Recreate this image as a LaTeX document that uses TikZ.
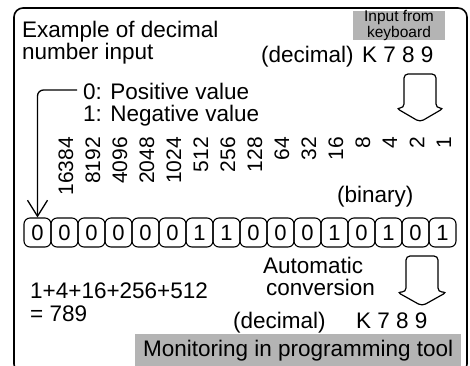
\documentclass[tikz,border=0pt]{standalone}
\usepackage{fontspec}
\setmainfont{Liberation Sans}
\usetikzlibrary{arrows.meta}
\definecolor{boxgray}{RGB}{180,180,180}
\begin{document}
\begin{tikzpicture}[x=1pt,y=-1pt,
  every node/.style={inner sep=0pt},
  txt/.style={font=\fontsize{22.5}{26}\selectfont, anchor=base west},
  weight/.style={font=\fontsize{21}{24}\selectfont, rotate=90, anchor=east},
  bitcell/.style={draw, line width=1.1pt, rounded corners=6pt, minimum width=27pt, minimum height=29pt, font=\fontsize{22}{24}\selectfont},
  blockarrow/.style={draw, line width=1.2pt, rounded corners=4pt, fill=white},
  graybox/.style={fill=boxgray}
]
\useasboundingbox (0,0) rectangle (470,365);
\begin{scope}
  \clip (0,0) rectangle (470,365);
  \draw[line width=1.6pt, rounded corners=9pt] (14,8) rectangle (467,373);
\end{scope}

% top texts
\node[txt] (ex1) at (22,37) {Example of decimal};
\node[txt] (ex2) at (22,59) {number input};
\node[txt] (dec1) at (261,62) {(decimal)};
\node[txt] (k1) at (362,62) {K 7 8 9};
\node[graybox, minimum width=92pt, minimum height=27pt, align=center,
      font=\fontsize{15.5}{13.5}\selectfont] (kbd) at (399,25.5) {Input from\\keyboard};

% sign legend
\node[txt] (pos) at (83,99) {0: Positive value};
\node[txt] (neg) at (83,121) {1: Negative value};

% top block arrow
\draw[blockarrow] (404,108) -- (404,74) -- (436,74) -- (436,108) -- (444,108) -- (420,122) -- (396,108) -- cycle;

% weights
\foreach \w [count=\i] in {16384,8192,4096,2048,1024,512,256,128,64,32,16,8,4,2,1} {
  \node[weight] (w\i) at (39+27*\i,137) {\w};
}

\node[txt] (bin) at (337,202) {(binary)};

% bit cells
\foreach \b [count=\i from 0] in {0,0,0,0,0,0,1,1,0,0,0,1,0,1,0,1} {
  \node[bitcell] (c\i) at (37.5+27*\i,232.5) {\b};
}

% sign bracket arrow
\draw[line width=1.3pt, rounded corners=6pt, -{Straight Barb[length=16pt,width=20pt,line width=1.3pt]}]
  ([xshift=-6pt]pos.west |- 0,90) coordinate (bstart) -| (c0.north);

% bottom texts
\node[txt] (sum1) at (30,298) {1+4+16+256+512};
\node[txt] (sum2) at (30,321) {= 789};
\node[txt] (auto1) at (263,273) {Automatic};
\node[txt] (auto2) at (266,295) {conversion};

\draw[blockarrow] (406,292) -- (406,256) -- (438,256) -- (438,292) -- (447,292) -- (422,306) -- (397,292) -- cycle;

\node[txt] (dec2) at (233,328) {(decimal)};
\node[txt] (k2) at (356,328) {K 7 8 9};

\node[graybox, minimum width=326pt, minimum height=32pt, anchor=north west,
      font=\fontsize{22.5}{26}\selectfont] (mon) at (135,334) {Monitoring in programming tool};
\end{tikzpicture}
\end{document}
